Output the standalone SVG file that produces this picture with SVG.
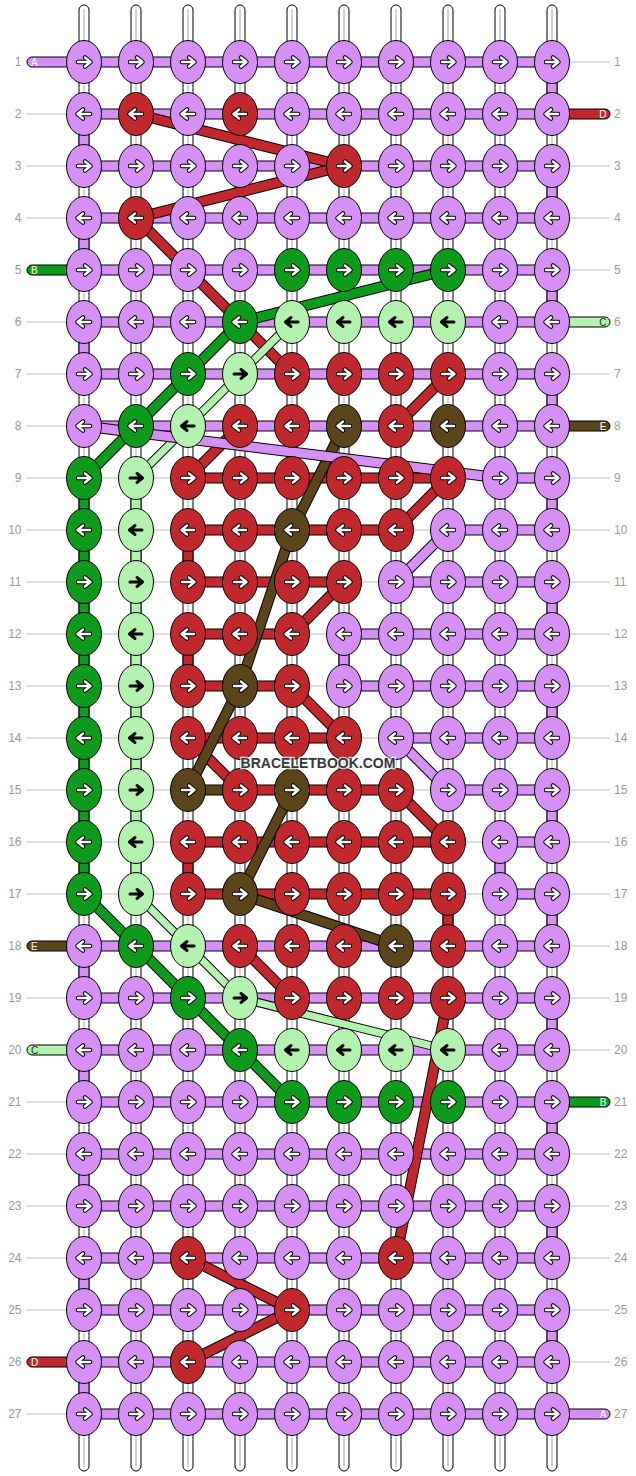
<svg xmlns="http://www.w3.org/2000/svg" xmlns:xlink="http://www.w3.org/1999/xlink" width="636" height="1476" viewBox="0 0 636 1476">
<style>
.p{fill:#d58ff5}.r{fill:#c0282d}.g{fill:#0e9b1c}.l{fill:#b4f2b0}.b{fill:#5c441a}
.s{stroke:#000;stroke-width:1}
.gl line{stroke:#bdbdbd;stroke-width:1}
.num{font-family:"Liberation Sans",Arial,sans-serif;font-size:12px;fill:#9a9a9a}
.tl{font-family:"Liberation Sans",Arial,sans-serif;font-size:10px;fill:#fff}
.tk{fill:#222}
.o{stroke:#000;stroke-width:11}
.o2{stroke:#000;stroke-width:9}
.cR{stroke:#c0282d;stroke-width:9}.cB{stroke:#5c441a;stroke-width:9}.cG{stroke:#0e9b1c;stroke-width:9}.cP{stroke:#d58ff5;stroke-width:9}.cL{stroke:#b4f2b0;stroke-width:7}
.wm{font-family:"Liberation Sans",Arial,sans-serif;font-size:14px;font-weight:bold;fill:#383838;stroke:#fff;stroke-width:2.5;paint-order:stroke;stroke-opacity:0.8}
</style>
<defs>
<ellipse id="kn" rx="17.5" ry="21.5" stroke="#000" stroke-width="1"/>
<path id="ap" d="M-6,0H6M1,-4.5L6.5,0L1,4.5" fill="none" stroke-linecap="round" stroke-linejoin="round"/>
<g id="aw"><use href="#ap" stroke="#000" stroke-width="4.5"/><use href="#ap" stroke="#fff" stroke-width="2.5"/></g>
<g id="ab"><use href="#ap" stroke="#000" stroke-width="3"/></g>
<g id="pR"><use href="#kn" class="p"/><use href="#aw"/></g>
<g id="pL"><use href="#kn" class="p"/><use href="#aw" transform="scale(-1,1)"/></g>
<g id="rR"><use href="#kn" class="r"/><use href="#aw"/></g>
<g id="rL"><use href="#kn" class="r"/><use href="#aw" transform="scale(-1,1)"/></g>
<g id="gR"><use href="#kn" class="g"/><use href="#aw"/></g>
<g id="gL"><use href="#kn" class="g"/><use href="#aw" transform="scale(-1,1)"/></g>
<g id="bR"><use href="#kn" class="b"/><use href="#aw"/></g>
<g id="bL"><use href="#kn" class="b"/><use href="#aw" transform="scale(-1,1)"/></g>
<g id="lR"><use href="#kn" class="l"/><use href="#ab"/></g>
<g id="lL"><use href="#kn" class="l"/><use href="#ab" transform="scale(-1,1)"/></g>
<g id="warp"><rect x="-5" y="5" width="10" height="1466" rx="5" fill="#fff" stroke="#000" stroke-width="1"/><line x1="0" y1="9" x2="0" y2="1467" stroke="#d4d4d4" stroke-width="2"/></g>
</defs>
<rect width="636" height="1476" fill="#fff"/>
<g id="guides" class="gl">
<line x1="26" y1="62" x2="610" y2="62"/><line x1="26" y1="114" x2="610" y2="114"/><line x1="26" y1="166" x2="610" y2="166"/><line x1="26" y1="218" x2="610" y2="218"/><line x1="26" y1="270" x2="610" y2="270"/><line x1="26" y1="322" x2="610" y2="322"/><line x1="26" y1="374" x2="610" y2="374"/><line x1="26" y1="426" x2="610" y2="426"/><line x1="26" y1="478" x2="610" y2="478"/><line x1="26" y1="530" x2="610" y2="530"/><line x1="26" y1="582" x2="610" y2="582"/><line x1="26" y1="634" x2="610" y2="634"/><line x1="26" y1="686" x2="610" y2="686"/><line x1="26" y1="738" x2="610" y2="738"/><line x1="26" y1="790" x2="610" y2="790"/><line x1="26" y1="842" x2="610" y2="842"/><line x1="26" y1="894" x2="610" y2="894"/><line x1="26" y1="946" x2="610" y2="946"/><line x1="26" y1="998" x2="610" y2="998"/><line x1="26" y1="1050" x2="610" y2="1050"/><line x1="26" y1="1102" x2="610" y2="1102"/><line x1="26" y1="1154" x2="610" y2="1154"/><line x1="26" y1="1206" x2="610" y2="1206"/><line x1="26" y1="1258" x2="610" y2="1258"/><line x1="26" y1="1310" x2="610" y2="1310"/><line x1="26" y1="1362" x2="610" y2="1362"/><line x1="26" y1="1414" x2="610" y2="1414"/>
</g>
<g id="strings">
<use href="#warp" x="84"/><use href="#warp" x="136"/><use href="#warp" x="188"/><use href="#warp" x="240"/><use href="#warp" x="292"/><use href="#warp" x="344"/><use href="#warp" x="396"/><use href="#warp" x="448"/><use href="#warp" x="500"/><use href="#warp" x="552"/>
</g>
<g id="connectors">
<g id="vertical" class="s">
<rect class="p" x="547" y="62" width="10" height="52"/><rect class="p" x="79" y="114" width="10" height="52"/><rect class="p" x="547" y="166" width="10" height="52"/><rect class="p" x="79" y="218" width="10" height="52"/><rect class="p" x="547" y="270" width="10" height="52"/><rect class="p" x="79" y="322" width="10" height="52"/><rect class="p" x="547" y="374" width="10" height="52"/><rect class="p" x="547" y="478" width="10" height="52"/><rect class="p" x="547" y="582" width="10" height="52"/><rect class="p" x="339" y="634" width="10" height="52"/><rect class="p" x="547" y="686" width="10" height="52"/><rect class="p" x="547" y="790" width="10" height="52"/><rect class="p" x="495" y="842" width="10" height="52"/><rect class="p" x="547" y="894" width="10" height="52"/><rect class="p" x="79" y="946" width="10" height="52"/><rect class="p" x="547" y="998" width="10" height="52"/><rect class="p" x="79" y="1050" width="10" height="52"/><rect class="p" x="547" y="1102" width="10" height="52"/><rect class="p" x="79" y="1154" width="10" height="52"/><rect class="p" x="547" y="1206" width="10" height="52"/><rect class="p" x="79" y="1258" width="10" height="52"/><rect class="p" x="547" y="1310" width="10" height="52"/><rect class="p" x="79" y="1362" width="10" height="52"/>
<rect class="g" x="79" y="478" width="10" height="416"/><rect class="l" x="131" y="478" width="10" height="416"/>
<rect class="r" x="183" y="530" width="10" height="52"/><rect class="r" x="183" y="634" width="10" height="52"/><rect class="r" x="183" y="842" width="10" height="52"/><rect class="r" x="443" y="894" width="10" height="52"/>
</g>
<g id="horizontal" class="s">
<rect class="p" x="84" y="57" width="468" height="10"/><rect class="p" x="84" y="109" width="468" height="10"/><rect class="p" x="84" y="161" width="468" height="10"/><rect class="p" x="84" y="213" width="468" height="10"/><rect class="p" x="84" y="265" width="468" height="10"/><rect class="p" x="84" y="317" width="468" height="10"/><rect class="p" x="84" y="369" width="468" height="10"/><rect class="p" x="84" y="421" width="468" height="10"/>
<rect class="r" x="188" y="473" width="260" height="10"/><rect class="p" x="500" y="473" width="52" height="10"/>
<rect class="r" x="188" y="525" width="208" height="10"/><rect class="p" x="448" y="525" width="104" height="10"/>
<rect class="r" x="188" y="577" width="156" height="10"/><rect class="p" x="396" y="577" width="156" height="10"/>
<rect class="r" x="188" y="629" width="104" height="10"/><rect class="p" x="344" y="629" width="208" height="10"/>
<rect class="r" x="188" y="681" width="104" height="10"/><rect class="p" x="344" y="681" width="208" height="10"/>
<rect class="r" x="188" y="733" width="156" height="10"/><rect class="p" x="396" y="733" width="156" height="10"/>
<rect class="b" x="188" y="785" width="52" height="10"/><rect class="r" x="240" y="785" width="156" height="10"/><rect class="p" x="448" y="785" width="104" height="10"/>
<rect class="r" x="188" y="837" width="260" height="10"/><rect class="p" x="500" y="837" width="52" height="10"/>
<rect class="r" x="188" y="889" width="260" height="10"/><rect class="p" x="500" y="889" width="52" height="10"/>
<rect class="p" x="84" y="941" width="468" height="10"/><rect class="p" x="84" y="993" width="468" height="10"/><rect class="p" x="84" y="1045" width="468" height="10"/><rect class="p" x="84" y="1097" width="468" height="10"/><rect class="p" x="84" y="1149" width="468" height="10"/><rect class="p" x="84" y="1201" width="468" height="10"/><rect class="p" x="84" y="1253" width="468" height="10"/><rect class="p" x="84" y="1305" width="468" height="10"/><rect class="p" x="84" y="1357" width="468" height="10"/><rect class="p" x="84" y="1409" width="468" height="10"/>
</g>
<g id="tabs">
<path class="p s" d="M84,57H32A5,5 0 0 0 32,67H84Z"/><text class="tl" x="31" y="65.6">A</text>
<path class="g s" d="M84,265H32A5,5 0 0 0 32,275H84Z"/><text class="tl" x="31" y="273.6">B</text>
<path class="b s" d="M84,941H32A5,5 0 0 0 32,951H84Z"/><text class="tl" x="31" y="949.6">E</text>
<path class="l s" d="M84,1045H32A5,5 0 0 0 32,1055H84Z"/><text class="tl tk" x="31" y="1053.6">C</text>
<path class="r s" d="M84,1357H32A5,5 0 0 0 32,1367H84Z"/><text class="tl" x="31" y="1365.6">D</text>
<path class="r s" d="M552,109H605A5,5 0 0 1 605,119H552Z"/><text class="tl" x="606.5" y="117.6" text-anchor="end">D</text>
<path class="l s" d="M552,317H605A5,5 0 0 1 605,327H552Z"/><text class="tl tk" x="606.5" y="325.6" text-anchor="end">C</text>
<path class="b s" d="M552,421H605A5,5 0 0 1 605,431H552Z"/><text class="tl" x="606.5" y="429.6" text-anchor="end">E</text>
<path class="g s" d="M552,1097H605A5,5 0 0 1 605,1107H552Z"/><text class="tl" x="606.5" y="1105.6" text-anchor="end">B</text>
<path class="p s" d="M552,1409H605A5,5 0 0 1 605,1419H552Z"/><text class="tl" x="606.5" y="1417.6" text-anchor="end">A</text>
</g>
<g id="diag-red">
<line class="o" x1="136" y1="114" x2="344" y2="166"/><line class="cR" x1="136" y1="114" x2="344" y2="166"/>
<line class="o" x1="344" y1="166" x2="136" y2="218"/><line class="cR" x1="344" y1="166" x2="136" y2="218"/>
<line class="o" x1="136" y1="218" x2="292" y2="374"/><line class="cR" x1="136" y1="218" x2="292" y2="374"/>
<line class="o" x1="448" y1="374" x2="396" y2="426"/><line class="cR" x1="448" y1="374" x2="396" y2="426"/>
<line class="o" x1="240" y1="426" x2="188" y2="478"/><line class="cR" x1="240" y1="426" x2="188" y2="478"/>
<line class="o" x1="448" y1="478" x2="396" y2="530"/><line class="cR" x1="448" y1="478" x2="396" y2="530"/>
<line class="o" x1="344" y1="582" x2="292" y2="634"/><line class="cR" x1="344" y1="582" x2="292" y2="634"/>
<line class="o" x1="292" y1="686" x2="344" y2="738"/><line class="cR" x1="292" y1="686" x2="344" y2="738"/>
<line class="o" x1="188" y1="738" x2="240" y2="790"/><line class="cR" x1="188" y1="738" x2="240" y2="790"/>
<line class="o" x1="396" y1="790" x2="448" y2="842"/><line class="cR" x1="396" y1="790" x2="448" y2="842"/>
<line class="o" x1="240" y1="946" x2="292" y2="998"/><line class="cR" x1="240" y1="946" x2="292" y2="998"/>
<line class="o" x1="448" y1="998" x2="396" y2="1258"/><line class="cR" x1="448" y1="998" x2="396" y2="1258"/>
<line class="o" x1="188" y1="1258" x2="292" y2="1310"/><line class="cR" x1="188" y1="1258" x2="292" y2="1310"/>
<line class="o" x1="292" y1="1310" x2="188" y2="1362"/><line class="cR" x1="292" y1="1310" x2="188" y2="1362"/>
</g>
<g id="diag-brown">
<line class="o" x1="344" y1="426" x2="292" y2="530"/><line class="cB" x1="344" y1="426" x2="292" y2="530"/>
<line class="o" x1="292" y1="530" x2="240" y2="686"/><line class="cB" x1="292" y1="530" x2="240" y2="686"/>
<line class="o" x1="240" y1="686" x2="188" y2="790"/><line class="cB" x1="240" y1="686" x2="188" y2="790"/>
<line class="o" x1="292" y1="790" x2="240" y2="894"/><line class="cB" x1="292" y1="790" x2="240" y2="894"/>
<line class="o" x1="240" y1="894" x2="396" y2="946"/><line class="cB" x1="240" y1="894" x2="396" y2="946"/>
</g>
<g id="diag-green">
<line class="o" x1="448" y1="270" x2="240" y2="322"/><line class="cG" x1="448" y1="270" x2="240" y2="322"/>
<line class="o" x1="240" y1="322" x2="84" y2="478"/><line class="cG" x1="240" y1="322" x2="84" y2="478"/>
<line class="o" x1="84" y1="894" x2="292" y2="1102"/><line class="cG" x1="84" y1="894" x2="292" y2="1102"/>
</g>
<g id="diag-lightgreen">
<line class="o2" x1="292" y1="322" x2="136" y2="478"/><line class="cL" x1="292" y1="322" x2="136" y2="478"/>
<line class="o2" x1="136" y1="894" x2="240" y2="998"/><line class="cL" x1="136" y1="894" x2="240" y2="998"/>
<line class="o2" x1="240" y1="998" x2="448" y2="1050"/><line class="cL" x1="240" y1="998" x2="448" y2="1050"/>
</g>
<g id="diag-purple">
<line class="o" x1="84" y1="426" x2="500" y2="478"/><line class="cP" x1="84" y1="426" x2="500" y2="478"/>
<line class="o" x1="448" y1="530" x2="396" y2="582"/><line class="cP" x1="448" y1="530" x2="396" y2="582"/>
<line class="o" x1="396" y1="738" x2="448" y2="790"/><line class="cP" x1="396" y1="738" x2="448" y2="790"/>
</g>
</g>
<g id="knots">
<g id="n1-1"><use href="#pR" x="84" y="62"/></g><g id="n1-2"><use href="#pR" x="136" y="62"/></g><g id="n1-3"><use href="#pR" x="188" y="62"/></g><g id="n1-4"><use href="#pR" x="240" y="62"/></g><g id="n1-5"><use href="#pR" x="292" y="62"/></g><g id="n1-6"><use href="#pR" x="344" y="62"/></g><g id="n1-7"><use href="#pR" x="396" y="62"/></g><g id="n1-8"><use href="#pR" x="448" y="62"/></g><g id="n1-9"><use href="#pR" x="500" y="62"/></g><g id="n1-10"><use href="#pR" x="552" y="62"/></g>
<g id="n2-1"><use href="#pL" x="84" y="114"/></g><g id="n2-2"><use href="#rL" x="136" y="114"/></g><g id="n2-3"><use href="#pL" x="188" y="114"/></g><g id="n2-4"><use href="#rL" x="240" y="114"/></g><g id="n2-5"><use href="#pL" x="292" y="114"/></g><g id="n2-6"><use href="#pL" x="344" y="114"/></g><g id="n2-7"><use href="#pL" x="396" y="114"/></g><g id="n2-8"><use href="#pL" x="448" y="114"/></g><g id="n2-9"><use href="#pL" x="500" y="114"/></g><g id="n2-10"><use href="#pL" x="552" y="114"/></g>
<g id="n3-1"><use href="#pR" x="84" y="166"/></g><g id="n3-2"><use href="#pR" x="136" y="166"/></g><g id="n3-3"><use href="#pR" x="188" y="166"/></g><g id="n3-4"><use href="#pR" x="240" y="166"/></g><g id="n3-5"><use href="#pR" x="292" y="166"/></g><g id="n3-6"><use href="#rR" x="344" y="166"/></g><g id="n3-7"><use href="#pR" x="396" y="166"/></g><g id="n3-8"><use href="#pR" x="448" y="166"/></g><g id="n3-9"><use href="#pR" x="500" y="166"/></g><g id="n3-10"><use href="#pR" x="552" y="166"/></g>
<g id="n4-1"><use href="#pL" x="84" y="218"/></g><g id="n4-2"><use href="#rL" x="136" y="218"/></g><g id="n4-3"><use href="#pL" x="188" y="218"/></g><g id="n4-4"><use href="#pL" x="240" y="218"/></g><g id="n4-5"><use href="#pL" x="292" y="218"/></g><g id="n4-6"><use href="#pL" x="344" y="218"/></g><g id="n4-7"><use href="#pL" x="396" y="218"/></g><g id="n4-8"><use href="#pL" x="448" y="218"/></g><g id="n4-9"><use href="#pL" x="500" y="218"/></g><g id="n4-10"><use href="#pL" x="552" y="218"/></g>
<g id="n5-1"><use href="#pR" x="84" y="270"/></g><g id="n5-2"><use href="#pR" x="136" y="270"/></g><g id="n5-3"><use href="#pR" x="188" y="270"/></g><g id="n5-4"><use href="#pR" x="240" y="270"/></g><g id="n5-5"><use href="#gR" x="292" y="270"/></g><g id="n5-6"><use href="#gR" x="344" y="270"/></g><g id="n5-7"><use href="#gR" x="396" y="270"/></g><g id="n5-8"><use href="#gR" x="448" y="270"/></g><g id="n5-9"><use href="#pR" x="500" y="270"/></g><g id="n5-10"><use href="#pR" x="552" y="270"/></g>
<g id="n6-1"><use href="#pL" x="84" y="322"/></g><g id="n6-2"><use href="#pL" x="136" y="322"/></g><g id="n6-3"><use href="#pL" x="188" y="322"/></g><g id="n6-4"><use href="#gL" x="240" y="322"/></g><g id="n6-5"><use href="#lL" x="292" y="322"/></g><g id="n6-6"><use href="#lL" x="344" y="322"/></g><g id="n6-7"><use href="#lL" x="396" y="322"/></g><g id="n6-8"><use href="#lL" x="448" y="322"/></g><g id="n6-9"><use href="#pL" x="500" y="322"/></g><g id="n6-10"><use href="#pL" x="552" y="322"/></g>
<g id="n7-1"><use href="#pR" x="84" y="374"/></g><g id="n7-2"><use href="#pR" x="136" y="374"/></g><g id="n7-3"><use href="#gR" x="188" y="374"/></g><g id="n7-4"><use href="#lR" x="240" y="374"/></g><g id="n7-5"><use href="#rR" x="292" y="374"/></g><g id="n7-6"><use href="#rR" x="344" y="374"/></g><g id="n7-7"><use href="#rR" x="396" y="374"/></g><g id="n7-8"><use href="#rR" x="448" y="374"/></g><g id="n7-9"><use href="#pR" x="500" y="374"/></g><g id="n7-10"><use href="#pR" x="552" y="374"/></g>
<g id="n8-1"><use href="#pL" x="84" y="426"/></g><g id="n8-2"><use href="#gL" x="136" y="426"/></g><g id="n8-3"><use href="#lL" x="188" y="426"/></g><g id="n8-4"><use href="#rL" x="240" y="426"/></g><g id="n8-5"><use href="#rL" x="292" y="426"/></g><g id="n8-6"><use href="#bL" x="344" y="426"/></g><g id="n8-7"><use href="#rL" x="396" y="426"/></g><g id="n8-8"><use href="#bL" x="448" y="426"/></g><g id="n8-9"><use href="#pL" x="500" y="426"/></g><g id="n8-10"><use href="#pL" x="552" y="426"/></g>
<g id="n9-1"><use href="#gR" x="84" y="478"/></g><g id="n9-2"><use href="#lR" x="136" y="478"/></g><g id="n9-3"><use href="#rR" x="188" y="478"/></g><g id="n9-4"><use href="#rR" x="240" y="478"/></g><g id="n9-5"><use href="#rR" x="292" y="478"/></g><g id="n9-6"><use href="#rR" x="344" y="478"/></g><g id="n9-7"><use href="#rR" x="396" y="478"/></g><g id="n9-8"><use href="#rR" x="448" y="478"/></g><g id="n9-9"><use href="#pR" x="500" y="478"/></g><g id="n9-10"><use href="#pR" x="552" y="478"/></g>
<g id="n10-1"><use href="#gL" x="84" y="530"/></g><g id="n10-2"><use href="#lL" x="136" y="530"/></g><g id="n10-3"><use href="#rL" x="188" y="530"/></g><g id="n10-4"><use href="#rL" x="240" y="530"/></g><g id="n10-5"><use href="#bL" x="292" y="530"/></g><g id="n10-6"><use href="#rL" x="344" y="530"/></g><g id="n10-7"><use href="#rL" x="396" y="530"/></g><g id="n10-8"><use href="#pL" x="448" y="530"/></g><g id="n10-9"><use href="#pL" x="500" y="530"/></g><g id="n10-10"><use href="#pL" x="552" y="530"/></g>
<g id="n11-1"><use href="#gR" x="84" y="582"/></g><g id="n11-2"><use href="#lR" x="136" y="582"/></g><g id="n11-3"><use href="#rR" x="188" y="582"/></g><g id="n11-4"><use href="#rR" x="240" y="582"/></g><g id="n11-5"><use href="#rR" x="292" y="582"/></g><g id="n11-6"><use href="#rR" x="344" y="582"/></g><g id="n11-7"><use href="#pR" x="396" y="582"/></g><g id="n11-8"><use href="#pR" x="448" y="582"/></g><g id="n11-9"><use href="#pR" x="500" y="582"/></g><g id="n11-10"><use href="#pR" x="552" y="582"/></g>
<g id="n12-1"><use href="#gL" x="84" y="634"/></g><g id="n12-2"><use href="#lL" x="136" y="634"/></g><g id="n12-3"><use href="#rL" x="188" y="634"/></g><g id="n12-4"><use href="#rL" x="240" y="634"/></g><g id="n12-5"><use href="#rL" x="292" y="634"/></g><g id="n12-6"><use href="#pL" x="344" y="634"/></g><g id="n12-7"><use href="#pL" x="396" y="634"/></g><g id="n12-8"><use href="#pL" x="448" y="634"/></g><g id="n12-9"><use href="#pL" x="500" y="634"/></g><g id="n12-10"><use href="#pL" x="552" y="634"/></g>
<g id="n13-1"><use href="#gR" x="84" y="686"/></g><g id="n13-2"><use href="#lR" x="136" y="686"/></g><g id="n13-3"><use href="#rR" x="188" y="686"/></g><g id="n13-4"><use href="#bR" x="240" y="686"/></g><g id="n13-5"><use href="#rR" x="292" y="686"/></g><g id="n13-6"><use href="#pR" x="344" y="686"/></g><g id="n13-7"><use href="#pR" x="396" y="686"/></g><g id="n13-8"><use href="#pR" x="448" y="686"/></g><g id="n13-9"><use href="#pR" x="500" y="686"/></g><g id="n13-10"><use href="#pR" x="552" y="686"/></g>
<g id="n14-1"><use href="#gL" x="84" y="738"/></g><g id="n14-2"><use href="#lL" x="136" y="738"/></g><g id="n14-3"><use href="#rL" x="188" y="738"/></g><g id="n14-4"><use href="#rL" x="240" y="738"/></g><g id="n14-5"><use href="#rL" x="292" y="738"/></g><g id="n14-6"><use href="#rL" x="344" y="738"/></g><g id="n14-7"><use href="#pL" x="396" y="738"/></g><g id="n14-8"><use href="#pL" x="448" y="738"/></g><g id="n14-9"><use href="#pL" x="500" y="738"/></g><g id="n14-10"><use href="#pL" x="552" y="738"/></g>
<g id="n15-1"><use href="#gR" x="84" y="790"/></g><g id="n15-2"><use href="#lR" x="136" y="790"/></g><g id="n15-3"><use href="#bR" x="188" y="790"/></g><g id="n15-4"><use href="#rR" x="240" y="790"/></g><g id="n15-5"><use href="#bR" x="292" y="790"/></g><g id="n15-6"><use href="#rR" x="344" y="790"/></g><g id="n15-7"><use href="#rR" x="396" y="790"/></g><g id="n15-8"><use href="#pR" x="448" y="790"/></g><g id="n15-9"><use href="#pR" x="500" y="790"/></g><g id="n15-10"><use href="#pR" x="552" y="790"/></g>
<g id="n16-1"><use href="#gL" x="84" y="842"/></g><g id="n16-2"><use href="#lL" x="136" y="842"/></g><g id="n16-3"><use href="#rL" x="188" y="842"/></g><g id="n16-4"><use href="#rL" x="240" y="842"/></g><g id="n16-5"><use href="#rL" x="292" y="842"/></g><g id="n16-6"><use href="#rL" x="344" y="842"/></g><g id="n16-7"><use href="#rL" x="396" y="842"/></g><g id="n16-8"><use href="#rL" x="448" y="842"/></g><g id="n16-9"><use href="#pL" x="500" y="842"/></g><g id="n16-10"><use href="#pL" x="552" y="842"/></g>
<g id="n17-1"><use href="#gR" x="84" y="894"/></g><g id="n17-2"><use href="#lR" x="136" y="894"/></g><g id="n17-3"><use href="#rR" x="188" y="894"/></g><g id="n17-4"><use href="#bR" x="240" y="894"/></g><g id="n17-5"><use href="#rR" x="292" y="894"/></g><g id="n17-6"><use href="#rR" x="344" y="894"/></g><g id="n17-7"><use href="#rR" x="396" y="894"/></g><g id="n17-8"><use href="#rR" x="448" y="894"/></g><g id="n17-9"><use href="#pR" x="500" y="894"/></g><g id="n17-10"><use href="#pR" x="552" y="894"/></g>
<g id="n18-1"><use href="#pL" x="84" y="946"/></g><g id="n18-2"><use href="#gL" x="136" y="946"/></g><g id="n18-3"><use href="#lL" x="188" y="946"/></g><g id="n18-4"><use href="#rL" x="240" y="946"/></g><g id="n18-5"><use href="#rL" x="292" y="946"/></g><g id="n18-6"><use href="#rL" x="344" y="946"/></g><g id="n18-7"><use href="#bL" x="396" y="946"/></g><g id="n18-8"><use href="#rL" x="448" y="946"/></g><g id="n18-9"><use href="#pL" x="500" y="946"/></g><g id="n18-10"><use href="#pL" x="552" y="946"/></g>
<g id="n19-1"><use href="#pR" x="84" y="998"/></g><g id="n19-2"><use href="#pR" x="136" y="998"/></g><g id="n19-3"><use href="#gR" x="188" y="998"/></g><g id="n19-4"><use href="#lR" x="240" y="998"/></g><g id="n19-5"><use href="#rR" x="292" y="998"/></g><g id="n19-6"><use href="#rR" x="344" y="998"/></g><g id="n19-7"><use href="#rR" x="396" y="998"/></g><g id="n19-8"><use href="#rR" x="448" y="998"/></g><g id="n19-9"><use href="#pR" x="500" y="998"/></g><g id="n19-10"><use href="#pR" x="552" y="998"/></g>
<g id="n20-1"><use href="#pL" x="84" y="1050"/></g><g id="n20-2"><use href="#pL" x="136" y="1050"/></g><g id="n20-3"><use href="#pL" x="188" y="1050"/></g><g id="n20-4"><use href="#gL" x="240" y="1050"/></g><g id="n20-5"><use href="#lL" x="292" y="1050"/></g><g id="n20-6"><use href="#lL" x="344" y="1050"/></g><g id="n20-7"><use href="#lL" x="396" y="1050"/></g><g id="n20-8"><use href="#lL" x="448" y="1050"/></g><g id="n20-9"><use href="#pL" x="500" y="1050"/></g><g id="n20-10"><use href="#pL" x="552" y="1050"/></g>
<g id="n21-1"><use href="#pR" x="84" y="1102"/></g><g id="n21-2"><use href="#pR" x="136" y="1102"/></g><g id="n21-3"><use href="#pR" x="188" y="1102"/></g><g id="n21-4"><use href="#pR" x="240" y="1102"/></g><g id="n21-5"><use href="#gR" x="292" y="1102"/></g><g id="n21-6"><use href="#gR" x="344" y="1102"/></g><g id="n21-7"><use href="#gR" x="396" y="1102"/></g><g id="n21-8"><use href="#gR" x="448" y="1102"/></g><g id="n21-9"><use href="#pR" x="500" y="1102"/></g><g id="n21-10"><use href="#pR" x="552" y="1102"/></g>
<g id="n22-1"><use href="#pL" x="84" y="1154"/></g><g id="n22-2"><use href="#pL" x="136" y="1154"/></g><g id="n22-3"><use href="#pL" x="188" y="1154"/></g><g id="n22-4"><use href="#pL" x="240" y="1154"/></g><g id="n22-5"><use href="#pL" x="292" y="1154"/></g><g id="n22-6"><use href="#pL" x="344" y="1154"/></g><g id="n22-7"><use href="#pL" x="396" y="1154"/></g><g id="n22-8"><use href="#pL" x="448" y="1154"/></g><g id="n22-9"><use href="#pL" x="500" y="1154"/></g><g id="n22-10"><use href="#pL" x="552" y="1154"/></g>
<g id="n23-1"><use href="#pR" x="84" y="1206"/></g><g id="n23-2"><use href="#pR" x="136" y="1206"/></g><g id="n23-3"><use href="#pR" x="188" y="1206"/></g><g id="n23-4"><use href="#pR" x="240" y="1206"/></g><g id="n23-5"><use href="#pR" x="292" y="1206"/></g><g id="n23-6"><use href="#pR" x="344" y="1206"/></g><g id="n23-7"><use href="#pR" x="396" y="1206"/></g><g id="n23-8"><use href="#pR" x="448" y="1206"/></g><g id="n23-9"><use href="#pR" x="500" y="1206"/></g><g id="n23-10"><use href="#pR" x="552" y="1206"/></g>
<g id="n24-1"><use href="#pL" x="84" y="1258"/></g><g id="n24-2"><use href="#pL" x="136" y="1258"/></g><g id="n24-3"><use href="#rL" x="188" y="1258"/></g><g id="n24-4"><use href="#pL" x="240" y="1258"/></g><g id="n24-5"><use href="#pL" x="292" y="1258"/></g><g id="n24-6"><use href="#pL" x="344" y="1258"/></g><g id="n24-7"><use href="#rL" x="396" y="1258"/></g><g id="n24-8"><use href="#pL" x="448" y="1258"/></g><g id="n24-9"><use href="#pL" x="500" y="1258"/></g><g id="n24-10"><use href="#pL" x="552" y="1258"/></g>
<g id="n25-1"><use href="#pR" x="84" y="1310"/></g><g id="n25-2"><use href="#pR" x="136" y="1310"/></g><g id="n25-3"><use href="#pR" x="188" y="1310"/></g><g id="n25-4"><use href="#pR" x="240" y="1310"/></g><g id="n25-5"><use href="#rR" x="292" y="1310"/></g><g id="n25-6"><use href="#pR" x="344" y="1310"/></g><g id="n25-7"><use href="#pR" x="396" y="1310"/></g><g id="n25-8"><use href="#pR" x="448" y="1310"/></g><g id="n25-9"><use href="#pR" x="500" y="1310"/></g><g id="n25-10"><use href="#pR" x="552" y="1310"/></g>
<g id="n26-1"><use href="#pL" x="84" y="1362"/></g><g id="n26-2"><use href="#pL" x="136" y="1362"/></g><g id="n26-3"><use href="#rL" x="188" y="1362"/></g><g id="n26-4"><use href="#pL" x="240" y="1362"/></g><g id="n26-5"><use href="#pL" x="292" y="1362"/></g><g id="n26-6"><use href="#pL" x="344" y="1362"/></g><g id="n26-7"><use href="#pL" x="396" y="1362"/></g><g id="n26-8"><use href="#pL" x="448" y="1362"/></g><g id="n26-9"><use href="#pL" x="500" y="1362"/></g><g id="n26-10"><use href="#pL" x="552" y="1362"/></g>
<g id="n27-1"><use href="#pR" x="84" y="1414"/></g><g id="n27-2"><use href="#pR" x="136" y="1414"/></g><g id="n27-3"><use href="#pR" x="188" y="1414"/></g><g id="n27-4"><use href="#pR" x="240" y="1414"/></g><g id="n27-5"><use href="#pR" x="292" y="1414"/></g><g id="n27-6"><use href="#pR" x="344" y="1414"/></g><g id="n27-7"><use href="#pR" x="396" y="1414"/></g><g id="n27-8"><use href="#pR" x="448" y="1414"/></g><g id="n27-9"><use href="#pR" x="500" y="1414"/></g><g id="n27-10"><use href="#pR" x="552" y="1414"/></g>
</g>
<g id="row-labels" class="num">
<g text-anchor="end">
<text x="21.5" y="66.3">1</text><text x="21.5" y="118.3">2</text><text x="21.5" y="170.3">3</text><text x="21.5" y="222.3">4</text><text x="21.5" y="274.3">5</text><text x="21.5" y="326.3">6</text><text x="21.5" y="378.3">7</text><text x="21.5" y="430.3">8</text><text x="21.5" y="482.3">9</text><text x="21.5" y="534.3">10</text><text x="21.5" y="586.3">11</text><text x="21.5" y="638.3">12</text><text x="21.5" y="690.3">13</text><text x="21.5" y="742.3">14</text><text x="21.5" y="794.3">15</text><text x="21.5" y="846.3">16</text><text x="21.5" y="898.3">17</text><text x="21.5" y="950.3">18</text><text x="21.5" y="1002.3">19</text><text x="21.5" y="1054.3">20</text><text x="21.5" y="1106.3">21</text><text x="21.5" y="1158.3">22</text><text x="21.5" y="1210.3">23</text><text x="21.5" y="1262.3">24</text><text x="21.5" y="1314.3">25</text><text x="21.5" y="1366.3">26</text><text x="21.5" y="1418.3">27</text>
</g>
<g>
<text x="614" y="66.3">1</text><text x="614" y="118.3">2</text><text x="614" y="170.3">3</text><text x="614" y="222.3">4</text><text x="614" y="274.3">5</text><text x="614" y="326.3">6</text><text x="614" y="378.3">7</text><text x="614" y="430.3">8</text><text x="614" y="482.3">9</text><text x="614" y="534.3">10</text><text x="614" y="586.3">11</text><text x="614" y="638.3">12</text><text x="614" y="690.3">13</text><text x="614" y="742.3">14</text><text x="614" y="794.3">15</text><text x="614" y="846.3">16</text><text x="614" y="898.3">17</text><text x="614" y="950.3">18</text><text x="614" y="1002.3">19</text><text x="614" y="1054.3">20</text><text x="614" y="1106.3">21</text><text x="614" y="1158.3">22</text><text x="614" y="1210.3">23</text><text x="614" y="1262.3">24</text><text x="614" y="1314.3">25</text><text x="614" y="1366.3">26</text><text x="614" y="1418.3">27</text>
</g>
</g>
<text id="watermark" class="wm" x="318" y="768" text-anchor="middle">BRACELETBOOK.COM</text>
</svg>
